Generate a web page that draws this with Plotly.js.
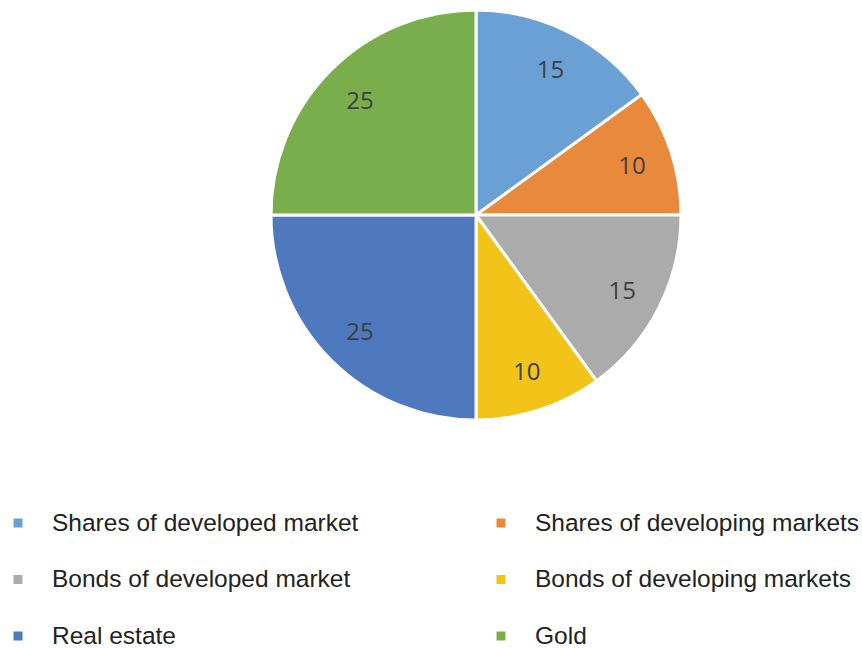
<!DOCTYPE html>
<html><head><meta charset="utf-8">
<script src="https://cdn.plot.ly/plotly-3.0.1.min.js"></script>
<style>html,body{margin:0;padding:0;background:#fff;width:862px;height:648px;overflow:hidden}#chart{width:1000px;height:648px}</style>
</head><body><div id="chart"></div>
<script>
const categories = ["Shares of developed market","Shares of developing markets","Bonds of developed market","Bonds of developing markets","Real estate","Gold"];
const values = [15, 10, 15, 10, 25, 25];
const colors = ["#6AA0D3","#E8893B","#ABABAB","#F2C41A","#4E79BF","#7AAE4C"];

const W = 1000, H = 648, B = 180;
const plotH = H - B;
const pieDomain = {x: [271/W, 681/W], y: [(plotH-420)/plotH, (plotH-10)/plotH]};

const legendLabels = categories.map(c => '<span style="font-size:24.5px">' + c + '</span><br> ');

const pieTrace = {
  type: 'pie',
  labels: legendLabels,
  values: values,
  textinfo: 'none',
  hoverinfo: 'none',
  sort: false,
  direction: 'clockwise',
  rotation: 0,
  marker: {colors: colors, line: {color: '#ffffff', width: 3}},
  domain: pieDomain
};

// transparent ring used only to place the value labels near the outer edge
const labelTrace = {
  type: 'pie',
  labels: legendLabels,
  values: values,
  text: values.map(String),
  textinfo: 'text',
  hoverinfo: 'none',
  hole: 0.6,
  sort: false,
  direction: 'clockwise',
  rotation: 0,
  showlegend: false,
  marker: {colors: values.map(() => 'rgba(0,0,0,0)'), line: {width: 0}},
  textposition: 'inside',
  insidetextorientation: 'horizontal',
  insidetextfont: {family: 'Open Sans, sans-serif', size: 24, color: '#404040'},
  domain: pieDomain
};

const layout = {
  width: W, height: H,
  margin: {l: 0, r: 0, t: 0, b: B, autoexpand: false},
  paper_bgcolor: '#ffffff',
  showlegend: true,
  legend: {
    orientation: 'h',
    x: -16/W, xanchor: 'left',
    y: (plotH-503)/plotH, yanchor: 'top',
    valign: 'top',
    entrywidth: 410, entrywidthmode: 'pixels',
    itemwidth: 58,
    font: {family: 'Liberation Sans, Arial, sans-serif', size: 20.6, color: '#222222'},
    bgcolor: 'rgba(0,0,0,0)'
  }
};

Plotly.newPlot('chart', [pieTrace, labelTrace], layout, {displayModeBar: false, staticPlot: true});
</script>
</body></html>
